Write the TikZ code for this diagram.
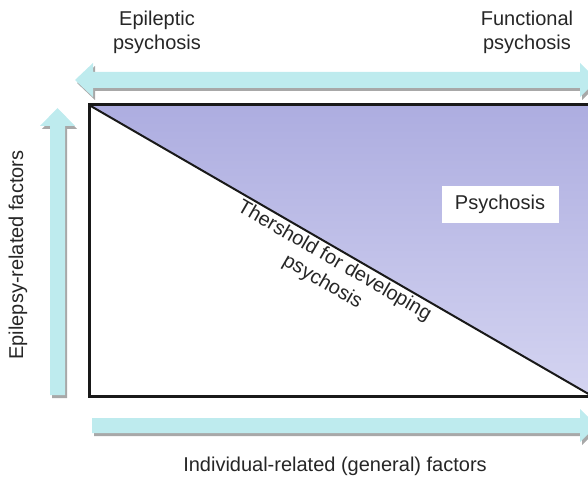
\documentclass[tikz,border=0pt]{standalone}
\usepackage{fontspec}
\setmainfont{Liberation Sans}
\usetikzlibrary{positioning}
\definecolor{arrowcyan}{HTML}{BEEBEE}
\definecolor{arrowshade}{HTML}{A8A8A8}
\definecolor{psytop}{HTML}{ADADE0}
\definecolor{psybot}{HTML}{D4D4F1}

\begin{document}
\begin{tikzpicture}[x=1pt,y=-1pt,
    labeltext/.style={font=\fontsize{20}{24}\selectfont, align=center, text=black!85},
    framebox/.style={draw=black!90, line width=3pt}]
        \useasboundingbox (0,0) rectangle (588,481);
        \clip (0,0) rectangle (588,481);

        % corners of the box
        \coordinate (tl) at (89,105);
        \coordinate (tr) at (592,105);
        \coordinate (bl) at (89,396);
        \coordinate (br) at (592,396);

        % psychosis area above the threshold
        \shade[top color=psytop, bottom color=psybot] (tl) -- (tr) -- (br) -- cycle;

        % block arrows with their shadows
        \foreach \dx/\dy/\col in {2/3/arrowshade, 0/0/arrowcyan} {
            \fill[\col, shift={(\dx,\dy)}] (75,80) -- (93,63) -- (93,72) -- (580,72) -- (580,63)
                -- (597,80) -- (580,97) -- (580,88) -- (93,88) -- (93,97) -- cycle;
            \fill[\col, shift={(\dx,\dy)}] (57.5,108) -- (75,126) -- (65,126) -- (65,395)
                -- (50,395) -- (50,126) -- (40,126) -- cycle;
            \fill[\col, shift={(\dx,\dy)}] (92,418) -- (580,418) -- (580,409) -- (597,425.5)
                -- (580,442) -- (580,433) -- (92,433) -- cycle;
        }

        % frame and threshold line
        \draw[framebox] (tr) -- (tl) -- (bl) -- (br);
        \draw[line width=2pt, black!90] (tl) -- node[labeltext, sloped, below, pos=0.5, inner sep=2pt]
            {Thershold for developing\\psychosis} (br);

        % labels
        \node[labeltext] (epi) at (157,32) {Epileptic\\psychosis};
        \node[labeltext] (func) at (527,32) {Functional\\psychosis};
        \node[labeltext, rotate=90] (epifac) at (18,255) {Epilepsy-related factors};
        \node[labeltext] (indfac) at (335,466) {Individual-related (general) factors};
        \node[labeltext, fill=white, minimum width=117pt, minimum height=37pt] (psy) at (500,204) {Psychosis};
\end{tikzpicture}
\end{document}
